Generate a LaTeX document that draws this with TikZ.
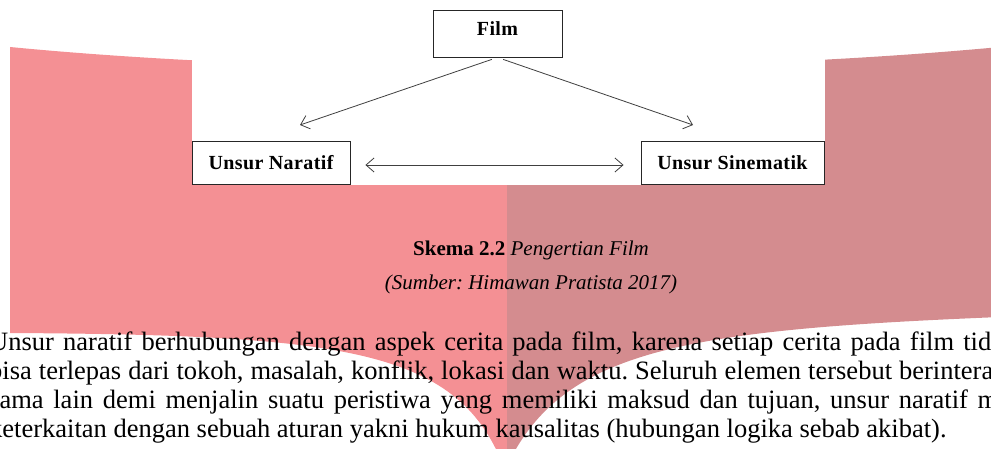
\documentclass[tikz,border=0pt]{standalone}
\usepackage{fontspec}
\setmainfont{Liberation Serif}
\usetikzlibrary{arrows.meta}
\frenchspacing

\begin{document}
\begin{tikzpicture}[x=1pt,y=-1pt,
    box/.style={shape=rectangle,draw=black!85,line width=0.9pt,fill=white,inner sep=0pt,font=\fontsize{20}{23}\selectfont\bfseries\addfontfeature{LetterSpace=2}},
    link/.style={draw=black!75,line width=0.8pt,-{Straight Barb[length=8pt,width=14pt]}},
    txtline/.style={anchor=base west,inner sep=0pt,font=\fontsize{26.5}{29}\selectfont}]
    \definecolor{wm_left}{RGB}{244,144,148}
    \definecolor{wm_right}{RGB}{212,140,143}
    \useasboundingbox (0,0) rectangle (991,449);
    \clip (0,0) rectangle (991,449);
    % ribbon behind the page
    \begin{scope}
      \clip (10,47) .. controls (300,75) and (700,75) .. (1000,47) -- (1000,317)
            .. controls (680,330) and (560,350) .. (505,470)
            .. controls (460,350) and (350,335) .. (10,333) -- cycle;
      \fill[wm_left] (0,0) rectangle (507,480);
      \fill[wm_right] (507,0) rectangle (1000,480);
    \end{scope}
    \fill[white] (192,0) rectangle (825,185);
    % schema
    \node[box,minimum width=129pt,minimum height=47pt,text depth=10pt] (film) at (497.5,33.5) {Film};
    \node[box,minimum width=158pt,minimum height=43pt] (naratif) at (271,162.5) {Unsur Naratif};
    \node[box,minimum width=183pt,minimum height=43pt] (sinematik) at (732.5,162.5) {Unsur Sinematik};
    \coordinate (nTip) at (300,125);
    \coordinate (sTip) at (693,125);
    \draw[link,shorten <=6pt] (film.south) -- (nTip);
    \draw[link,shorten <=6pt] (film.south) -- (sTip);
    \draw[link,{Straight Barb[length=8pt,width=14pt]}-{Straight Barb[length=8pt,width=14pt]},shorten <=15pt,shorten >=17pt]
      ([yshift=-2.5pt]naratif.east) -- ([yshift=-2.5pt]sinematik.west);
    % caption
    \node[anchor=base,inner sep=0pt,font=\fontsize{21}{24}\selectfont] (cap) at (531,255)
      {\textbf{Skema 2.2} \textit{Pengertian Film}};
    \node[anchor=base,inner sep=0pt,font=\fontsize{21}{24}\selectfont\itshape] (src) at (531,290)
      {(Sumber: Himawan Pratista 2017)};
    % paragraph
    \node[txtline] (p1) at (-11,350) {\makebox[1002pt][s]{Unsur naratif berhubungan dengan aspek cerita pada film, karena setiap cerita pada film tid}};
    \node[txtline] (p2) at (-11,379) {\makebox[1004pt][s]{bisa terlepas dari tokoh, masalah, konflik, lokasi dan waktu. Seluruh elemen tersebut berintera}};
    \node[txtline] (p3) at (-11,408) {\makebox[1009pt][s]{sama lain demi menjalin suatu peristiwa yang memiliki maksud dan tujuan, unsur naratif m}};
    \node[txtline] (p4) at (-11,437) {keterkaitan dengan sebuah aturan yakni hukum kausalitas (hubungan logika sebab akibat).};
\end{tikzpicture}
\end{document}
